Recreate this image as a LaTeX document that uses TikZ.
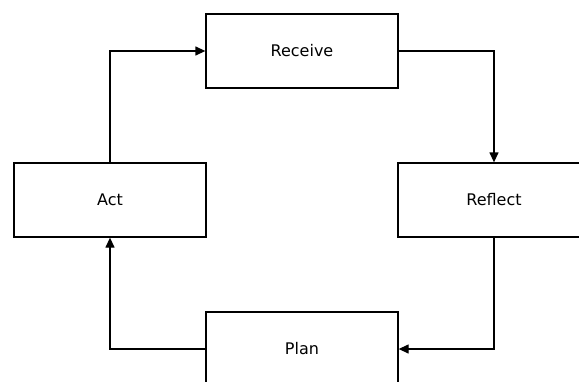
\documentclass[tikz,border=0pt]{standalone}
\usepackage{fontspec}
\setmainfont{DejaVu Sans}
\usetikzlibrary{arrows.meta}
\begin{document}
\begin{tikzpicture}[x=1pt, y=-1pt, line width=1.3pt,
        n/.style={rectangle, draw, fill=white, minimum width=192pt, minimum height=74pt, font=\fontsize{16}{18}\selectfont},
        >={Triangle[length=10pt, width=9pt]}]
        \useasboundingbox (0,0) rectangle (579,381);
        \node[n] (receive) at (302, 51) {Receive};
        \node[n] (act) at (110, 200) {Act};
        \node[n] (reflect) at (494, 200) {Reflect};
        \node[n] (plan) at (302, 349) {Plan};

        \draw[->] (act) |- (receive);
        \draw[->] (receive) -| (reflect);
        \draw[->] (reflect) |- (plan);
        \draw[->] (plan) -| (act);
    \end{tikzpicture}
\end{document}
